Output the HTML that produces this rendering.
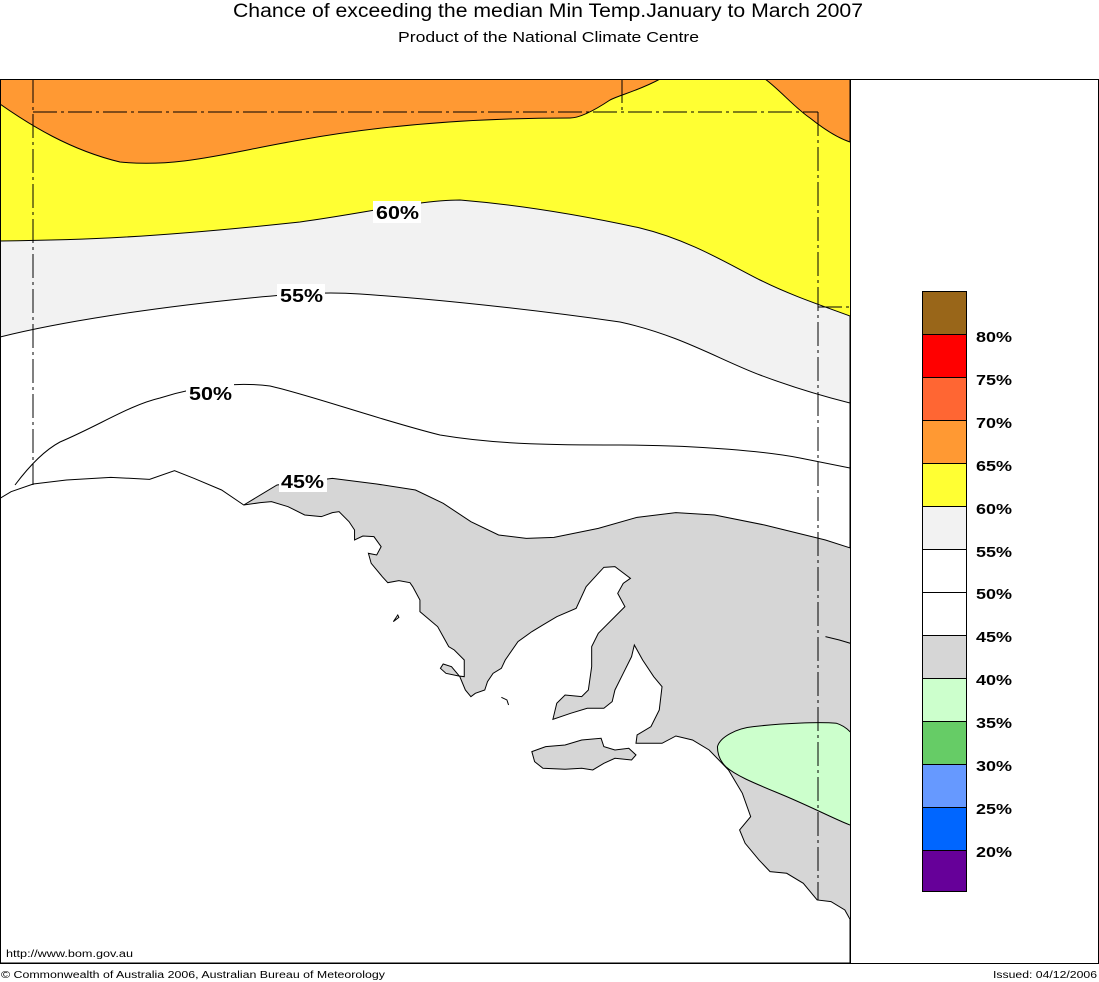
<!DOCTYPE html>
<html><head><meta charset="utf-8"><style>
body{margin:0;background:#fff;}
svg{display:block;font-family:"Liberation Sans",sans-serif;}
</style></head><body>
<svg width="1099" height="982" viewBox="0 0 1099 982">
<rect width="1099" height="982" fill="#fff"/>
<text x="233" y="17" font-size="19" textLength="630" lengthAdjust="spacingAndGlyphs">Chance of exceeding the median Min Temp.January to March 2007</text>
<text x="398" y="42" font-size="15" textLength="301" lengthAdjust="spacingAndGlyphs">Product of the National Climate Centre</text>
<defs>
<clipPath id="map"><rect x="0" y="79" width="850" height="884"/></clipPath>
<clipPath id="land"><path transform="translate(0,460) scale(0.554,0.3333)" d="M440,135 L500,75 L600,55 L680,72 L750,90 L800,130 L850,185 L900,225 L950,235 L1000,232 L1080,205 L1150,172 L1220,158 L1290,165 L1380,195 L1490,240 L1550,272 L1550,1385 L1535,1380 L1525,1350 L1500,1325 L1475,1320 L1450,1270 L1420,1240 L1390,1235 L1370,1200 L1345,1150 L1335,1110 L1355,1070 L1340,1000 L1315,930 L1280,870 L1250,840 L1220,828 L1195,850 L1148,850 L1150,825 L1175,800 L1190,750 L1195,680 L1180,650 L1160,600 L1145,555 L1140,590 L1125,640 L1110,690 L1105,725 L1090,745 L1060,745 L1030,760 L998,778 L1005,730 L1020,705 L1050,710 L1062,690 L1068,620 L1068,560 L1080,520 L1128,440 L1115,400 L1125,370 L1138,355 L1110,320 L1090,322 L1080,340 L1058,380 L1040,445 L1005,470 L980,495 L960,515 L935,545 L912,600 L905,625 L890,640 L880,665 L875,690 L858,700 L850,710 L840,690 L830,650 L815,620 L800,612 L795,625 L805,640 L828,648 L838,650 L838,600 L820,570 L810,560 L790,500 L758,455 L758,420 L745,380 L740,368 L720,362 L700,368 L690,350 L670,310 L665,280 L680,285 L688,260 L675,230 L655,228 L640,240 L640,210 L630,185 L612,155 L600,158 L580,170 L550,165 L520,140 L490,125 L470,128 Z"/></clipPath>
</defs>
<g clip-path="url(#map)">
<rect x="0" y="79" width="850" height="884" fill="#ffff33"/>
<path d="M0,79 L660,79 C640,90 620,95 610,100 C595,110 580,118 570,118 C500,118 400,122 300,140 C230,152 180,168 120,162 C70,150 30,125 0,104 Z" fill="#ff9933" stroke="#000" stroke-width="1"/>
<path d="M765,79 C780,90 795,108 810,118 C825,130 838,138 850,142 L850,79 Z" fill="#ff9933" stroke="#000" stroke-width="1"/>
<path d="M0,241 C80,240 150,238 300,222 C360,214 420,200 460,200 C520,205 580,215 640,228 C690,240 730,265 760,280 C790,295 820,305 850,316 L850,963 L0,963 Z" fill="#f2f2f2" stroke="#000" stroke-width="1"/>
<path d="M0,337 C60,322 150,308 250,298 C300,293 330,292 360,294 C450,300 550,312 620,322 C680,335 720,360 760,375 C800,390 830,398 850,403 L850,963 L0,963 Z" fill="#fff" stroke="#000" stroke-width="1"/>
<path d="M15,485 C30,465 45,450 60,442 C100,425 130,405 160,398 C200,385 240,382 270,386 C310,395 380,420 440,435 C500,445 560,445 620,445 C700,445 770,452 800,458 C820,462 840,466 850,468" fill="none" stroke="#000" stroke-width="1"/>
<rect x="0" y="79" width="850" height="884" fill="#d6d6d6" clip-path="url(#land)"/>
<g clip-path="url(#land)"><path transform="translate(0,460) scale(0.554,0.3333)" d="M1295,860 C1300,830 1330,805 1360,800 C1410,790 1480,785 1510,790 C1530,800 1545,830 1550,860 L1560,1110 C1520,1090 1490,1060 1420,1010 C1370,975 1330,950 1310,920 C1298,900 1295,880 1295,860 Z" fill="#ccffcc" stroke="#000" stroke-width="1" vector-effect="non-scaling-stroke"/></g>
<g transform="translate(0,460) scale(0.554,0.3333)" fill="none" stroke="#000" stroke-width="1">
<path vector-effect="non-scaling-stroke" d="M440,135 L500,75 L600,55 L680,72 L750,90 L800,130 L850,185 L900,225 L950,235 L1000,232 L1080,205 L1150,172 L1220,158 L1290,165 L1380,195 L1490,240 L1550,272"/>
<path vector-effect="non-scaling-stroke" d="M0,115 L20,95 L60,72 L120,60 L200,52 L270,58 L315,32 L350,55 L400,90 L440,135 L470,128 L490,125 L520,140 L550,165 L580,170 L600,158 L612,155 L630,185 L640,210 L640,240 L655,228 L675,230 L688,260 L680,285 L665,280 L670,310 L690,350 L700,368 L720,362 L740,368 L745,380 L758,420 L758,455 L790,500 L810,560 L820,570 L838,600 L838,650 L828,648 L805,640 L795,625 L800,612 L815,620 L830,650 L840,690 L850,710 L858,700 L875,690 L880,665 L890,640 L905,625 L912,600 L935,545 L960,515 L980,495 L1005,470 L1040,445 L1058,380 L1080,340 L1090,322 L1110,320 L1138,355 L1125,370 L1115,400 L1128,440 L1080,520 L1068,560 L1068,620 L1062,690 L1050,710 L1020,705 L1005,730 L998,778 L1030,760 L1060,745 L1090,745 L1105,725 L1110,690 L1125,640 L1140,590 L1145,555 L1160,600 L1180,650 L1195,680 L1190,750 L1175,800 L1150,825 L1148,850 L1195,850 L1220,828 L1250,840 L1280,870 L1315,930 L1340,1000 L1355,1070 L1335,1110 L1345,1150 L1370,1200 L1390,1235 L1420,1240 L1450,1270 L1475,1320 L1500,1325 L1525,1350 L1535,1380 L1550,1385"/>
<path vector-effect="non-scaling-stroke" fill="#d6d6d6" d="M960,875 L985,860 L1020,855 L1050,840 L1085,835 L1090,860 L1110,870 L1135,865 L1148,885 L1140,900 L1110,895 L1090,910 L1070,930 L1050,925 L1020,928 L980,925 L965,905 Z"/>
<path vector-effect="non-scaling-stroke" d="M710,485 L718,465 L720,472 Z"/>
<path vector-effect="non-scaling-stroke" d="M905,712 L915,720 L918,735"/>
<path vector-effect="non-scaling-stroke" d="M1490,530 L1515,540 L1545,555"/>
</g>
<g fill="none" stroke="#000" stroke-width="1" stroke-dasharray="24,4,3,4">
<path d="M33,79 L33,485"/>
<path d="M33,112 L818,112"/>
<path d="M622,79 L622,112"/>
<path d="M818,112 L818,900"/>
<path d="M818,307 L850,307"/>
</g>
</g>
<g font-size="18" font-weight="bold">
<rect x="373" y="201" width="48" height="22" fill="#fff"/><text x="376" y="219" textLength="43" lengthAdjust="spacingAndGlyphs">60%</text>
<rect x="277" y="284" width="48" height="22" fill="#fff"/><text x="280" y="302" textLength="43" lengthAdjust="spacingAndGlyphs">55%</text>
<rect x="186" y="382" width="48" height="22" fill="#fff"/><text x="189" y="400" textLength="43" lengthAdjust="spacingAndGlyphs">50%</text>
<rect x="279" y="470" width="48" height="22" fill="#fff"/><text x="281" y="488" textLength="43" lengthAdjust="spacingAndGlyphs">45%</text>
</g>
<rect x="0.5" y="79.5" width="1098" height="884" fill="none" stroke="#000"/>
<line x1="850.5" y1="79" x2="850.5" y2="963" stroke="#000"/>
<g stroke="#000" stroke-width="1">
<rect x="922.5" y="291.5" width="44" height="43" fill="#996619"/>
<rect x="922.5" y="334.5" width="44" height="43" fill="#ff0000"/>
<rect x="922.5" y="377.5" width="44" height="43" fill="#ff6633"/>
<rect x="922.5" y="420.5" width="44" height="43" fill="#ff9933"/>
<rect x="922.5" y="463.5" width="44" height="43" fill="#ffff33"/>
<rect x="922.5" y="506.5" width="44" height="43" fill="#f2f2f2"/>
<rect x="922.5" y="549.5" width="44" height="43" fill="#ffffff"/>
<rect x="922.5" y="592.5" width="44" height="43" fill="#ffffff"/>
<rect x="922.5" y="635.5" width="44" height="43" fill="#d6d6d6"/>
<rect x="922.5" y="678.5" width="44" height="43" fill="#ccffcc"/>
<rect x="922.5" y="721.5" width="44" height="43" fill="#66cc66"/>
<rect x="922.5" y="764.5" width="44" height="43" fill="#6699ff"/>
<rect x="922.5" y="807.5" width="44" height="43" fill="#0066ff"/>
<rect x="922.5" y="850.5" width="44" height="41" fill="#660099"/>
</g>
<g font-size="15" font-weight="bold">
<text x="976" y="342" textLength="36" lengthAdjust="spacingAndGlyphs">80%</text><text x="976" y="385" textLength="36" lengthAdjust="spacingAndGlyphs">75%</text><text x="976" y="428" textLength="36" lengthAdjust="spacingAndGlyphs">70%</text>
<text x="976" y="471" textLength="36" lengthAdjust="spacingAndGlyphs">65%</text><text x="976" y="514" textLength="36" lengthAdjust="spacingAndGlyphs">60%</text><text x="976" y="557" textLength="36" lengthAdjust="spacingAndGlyphs">55%</text>
<text x="976" y="599" textLength="36" lengthAdjust="spacingAndGlyphs">50%</text><text x="976" y="642" textLength="36" lengthAdjust="spacingAndGlyphs">45%</text><text x="976" y="685" textLength="36" lengthAdjust="spacingAndGlyphs">40%</text>
<text x="976" y="728" textLength="36" lengthAdjust="spacingAndGlyphs">35%</text><text x="976" y="771" textLength="36" lengthAdjust="spacingAndGlyphs">30%</text><text x="976" y="814" textLength="36" lengthAdjust="spacingAndGlyphs">25%</text>
<text x="976" y="857" textLength="36" lengthAdjust="spacingAndGlyphs">20%</text>
</g>
<text x="6" y="957" font-size="10" textLength="127" lengthAdjust="spacingAndGlyphs">http://www.bom.gov.au</text>
<text x="1" y="978" font-size="10" textLength="384" lengthAdjust="spacingAndGlyphs">© Commonwealth of Australia 2006, Australian Bureau of Meteorology</text>
<text x="993" y="978" font-size="10" textLength="104" lengthAdjust="spacingAndGlyphs">Issued: 04/12/2006</text>
</svg>
</body></html>
